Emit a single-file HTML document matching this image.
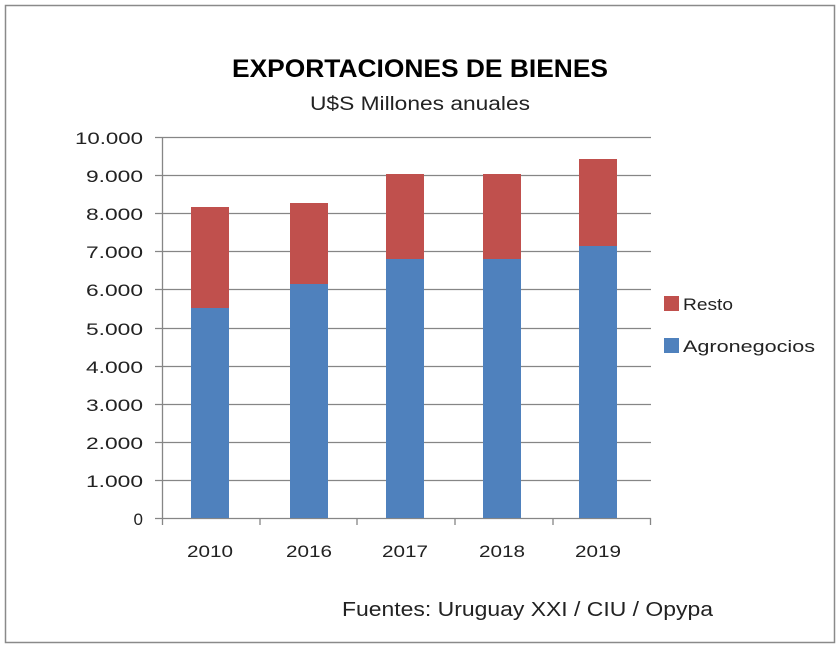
<!DOCTYPE html>
<html><head><style>
body{margin:0;background:#fff;}
</style></head><body>
<svg width="840" height="649" xmlns="http://www.w3.org/2000/svg" style="display:block;font-family:'Liberation Sans','DejaVu Sans',sans-serif">
<rect x="0" y="0" width="840" height="649" fill="#fff"/>
<rect x="5.5" y="5.5" width="829" height="637" fill="#fff" stroke="#8a8a8a" stroke-width="1.5"/>
<text x="232" y="77" font-size="25" font-weight="bold" fill="#000" textLength="376" lengthAdjust="spacingAndGlyphs">EXPORTACIONES DE BIENES</text>
<text x="310" y="110" font-size="19" fill="#222" textLength="220" lengthAdjust="spacingAndGlyphs">U$S Millones anuales</text>
<g stroke="#868686" stroke-width="1.3">
<line x1="155" y1="137.5" x2="651" y2="137.5"/>
<line x1="155" y1="175.5" x2="651" y2="175.5"/>
<line x1="155" y1="213.5" x2="651" y2="213.5"/>
<line x1="155" y1="251.5" x2="651" y2="251.5"/>
<line x1="155" y1="289.5" x2="651" y2="289.5"/>
<line x1="155" y1="328.5" x2="651" y2="328.5"/>
<line x1="155" y1="366.5" x2="651" y2="366.5"/>
<line x1="155" y1="404.5" x2="651" y2="404.5"/>
<line x1="155" y1="442.5" x2="651" y2="442.5"/>
<line x1="155" y1="480.5" x2="651" y2="480.5"/>
<line x1="155" y1="518.5" x2="651" y2="518.5"/>
<line x1="162.5" y1="137" x2="162.5" y2="525"/>
<line x1="260" y1="518" x2="260" y2="525"/>
<line x1="357" y1="518" x2="357" y2="525"/>
<line x1="455" y1="518" x2="455" y2="525"/>
<line x1="553" y1="518" x2="553" y2="525"/>
<line x1="650.5" y1="518" x2="650.5" y2="525"/>
</g>
<g fill="#4f81bd">
<rect x="191" y="308" width="38" height="210"/>
<rect x="290" y="284" width="38" height="234"/>
<rect x="386" y="259" width="38" height="259"/>
<rect x="483" y="259" width="38" height="259"/>
<rect x="579" y="246" width="38" height="272"/>
</g>
<g fill="#c0504d">
<rect x="191" y="207" width="38" height="101"/>
<rect x="290" y="203" width="38" height="81"/>
<rect x="386" y="174" width="38" height="85"/>
<rect x="483" y="174" width="38" height="85"/>
<rect x="579" y="159" width="38" height="87"/>
</g>
<g font-size="17" fill="#222" text-anchor="end" lengthAdjust="spacingAndGlyphs">
<text x="143" y="144" textLength="68" lengthAdjust="spacingAndGlyphs">10.000</text>
<text x="143" y="182" textLength="57" lengthAdjust="spacingAndGlyphs">9.000</text>
<text x="143" y="220" textLength="57" lengthAdjust="spacingAndGlyphs">8.000</text>
<text x="143" y="258" textLength="57" lengthAdjust="spacingAndGlyphs">7.000</text>
<text x="143" y="296" textLength="57" lengthAdjust="spacingAndGlyphs">6.000</text>
<text x="143" y="335" textLength="57" lengthAdjust="spacingAndGlyphs">5.000</text>
<text x="143" y="373" textLength="57" lengthAdjust="spacingAndGlyphs">4.000</text>
<text x="143" y="411" textLength="57" lengthAdjust="spacingAndGlyphs">3.000</text>
<text x="143" y="449" textLength="57" lengthAdjust="spacingAndGlyphs">2.000</text>
<text x="143" y="487" textLength="57" lengthAdjust="spacingAndGlyphs">1.000</text>
<text x="143" y="525">0</text>
</g>
<g font-size="17" fill="#222">
<text x="187" y="557" textLength="46" lengthAdjust="spacingAndGlyphs">2010</text>
<text x="286" y="557" textLength="46" lengthAdjust="spacingAndGlyphs">2016</text>
<text x="382" y="557" textLength="46" lengthAdjust="spacingAndGlyphs">2017</text>
<text x="479" y="557" textLength="46" lengthAdjust="spacingAndGlyphs">2018</text>
<text x="575" y="557" textLength="46" lengthAdjust="spacingAndGlyphs">2019</text>
</g>
<rect x="664" y="296" width="15" height="15" fill="#c0504d"/>
<text x="683" y="310" font-size="17" fill="#222" textLength="50" lengthAdjust="spacingAndGlyphs">Resto</text>
<rect x="664" y="338" width="15" height="15" fill="#4f81bd"/>
<text x="683" y="352" font-size="17" fill="#222" textLength="132" lengthAdjust="spacingAndGlyphs">Agronegocios</text>
<text x="342" y="616" font-size="20" fill="#222" textLength="371" lengthAdjust="spacingAndGlyphs">Fuentes: Uruguay XXI / CIU / Opypa</text>
</svg>
</body></html>
